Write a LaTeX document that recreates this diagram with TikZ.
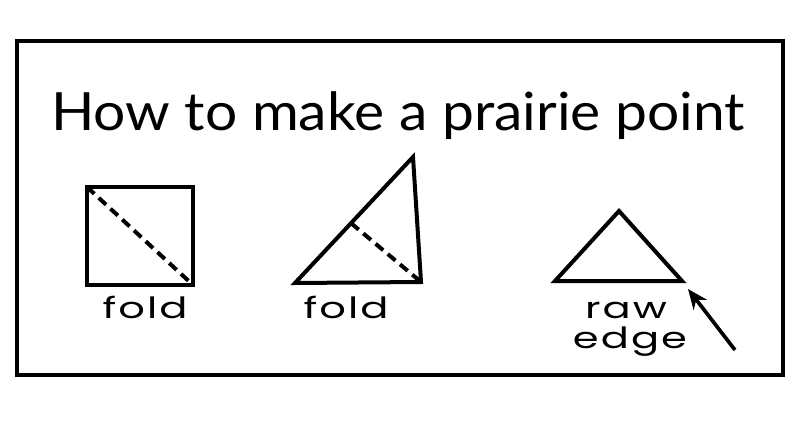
\documentclass[tikz,border=0pt]{standalone}
\usepackage{fontspec}
\usetikzlibrary{arrows.meta,calc}
\setmainfont{Lato}
\newfontfamily\etiquetafont{Poppins}[LetterSpace=5]
\begin{document}
\begin{tikzpicture}[x=0.03cm,y=-0.03cm]

	%DEFINICIONES
	\tikzstyle{every node}=[inner sep=0pt, outer sep=0pt]
	\tikzstyle{marco} = [line width=0.1cm]
	\tikzstyle{contorno} = [line width=0.12cm, line join=miter]
	\tikzstyle{pliegue} = [line width=0.12cm, dash pattern=on 0.3cm off 0.18cm]
	\tikzstyle{titulo} = [anchor=base, xscale=1.08, font=\fontsize{45}{54}\selectfont]
	\tikzstyle{etiqueta} = [anchor=base, xscale=1.42, font=\etiquetafont\fontsize{25}{30}\selectfont]
	\tikzstyle{flecha} = [-{Stealth[length=0.6cm, width=0.5cm]}, line width=0.11cm]

	\useasboundingbox (0,0) rectangle (797,425);

	%MARCO
	\draw[marco] (17,41) rectangle (783,375);
	\node[titulo] (titulo) at (398,130) {How to make a prairie point};

	%CUADRADO
	\coordinate (c1) at (87,187);
	\coordinate (c2) at (193,285);
	\draw[contorno] (c1) rectangle (c2);
	\draw[pliegue] (c1) -- (c2);
	\node[etiqueta] (fold1) at (145,318) {fold};

	%TRIANGULO DOBLADO
	\coordinate (t1) at (295,283);
	\coordinate (t2) at (413,157);
	\coordinate (t3) at (421,282);
	\draw[contorno] (t1) -- (t2) -- (t3) -- cycle;
	\draw[pliegue] ($(t1)!0.475!(t2)$) -- (t3);
	\node[etiqueta] (fold2) at (346,318) {fold};

	%PUNTA
	\coordinate (p1) at (555,281);
	\coordinate (p2) at (619,211);
	\coordinate (p3) at (682,281);
	\draw[contorno] (p1) -- (p2) -- (p3) -- cycle;
	\node[etiqueta] (raw) at (626,318) {raw};
	\node[etiqueta] (edge) at (630,348) {edge};

	%FLECHA
	\coordinate (cola) at (735,350);
	\coordinate (punta) at (688,289);
	\draw[flecha] (cola) -- (punta);
\end{tikzpicture}
\end{document}
